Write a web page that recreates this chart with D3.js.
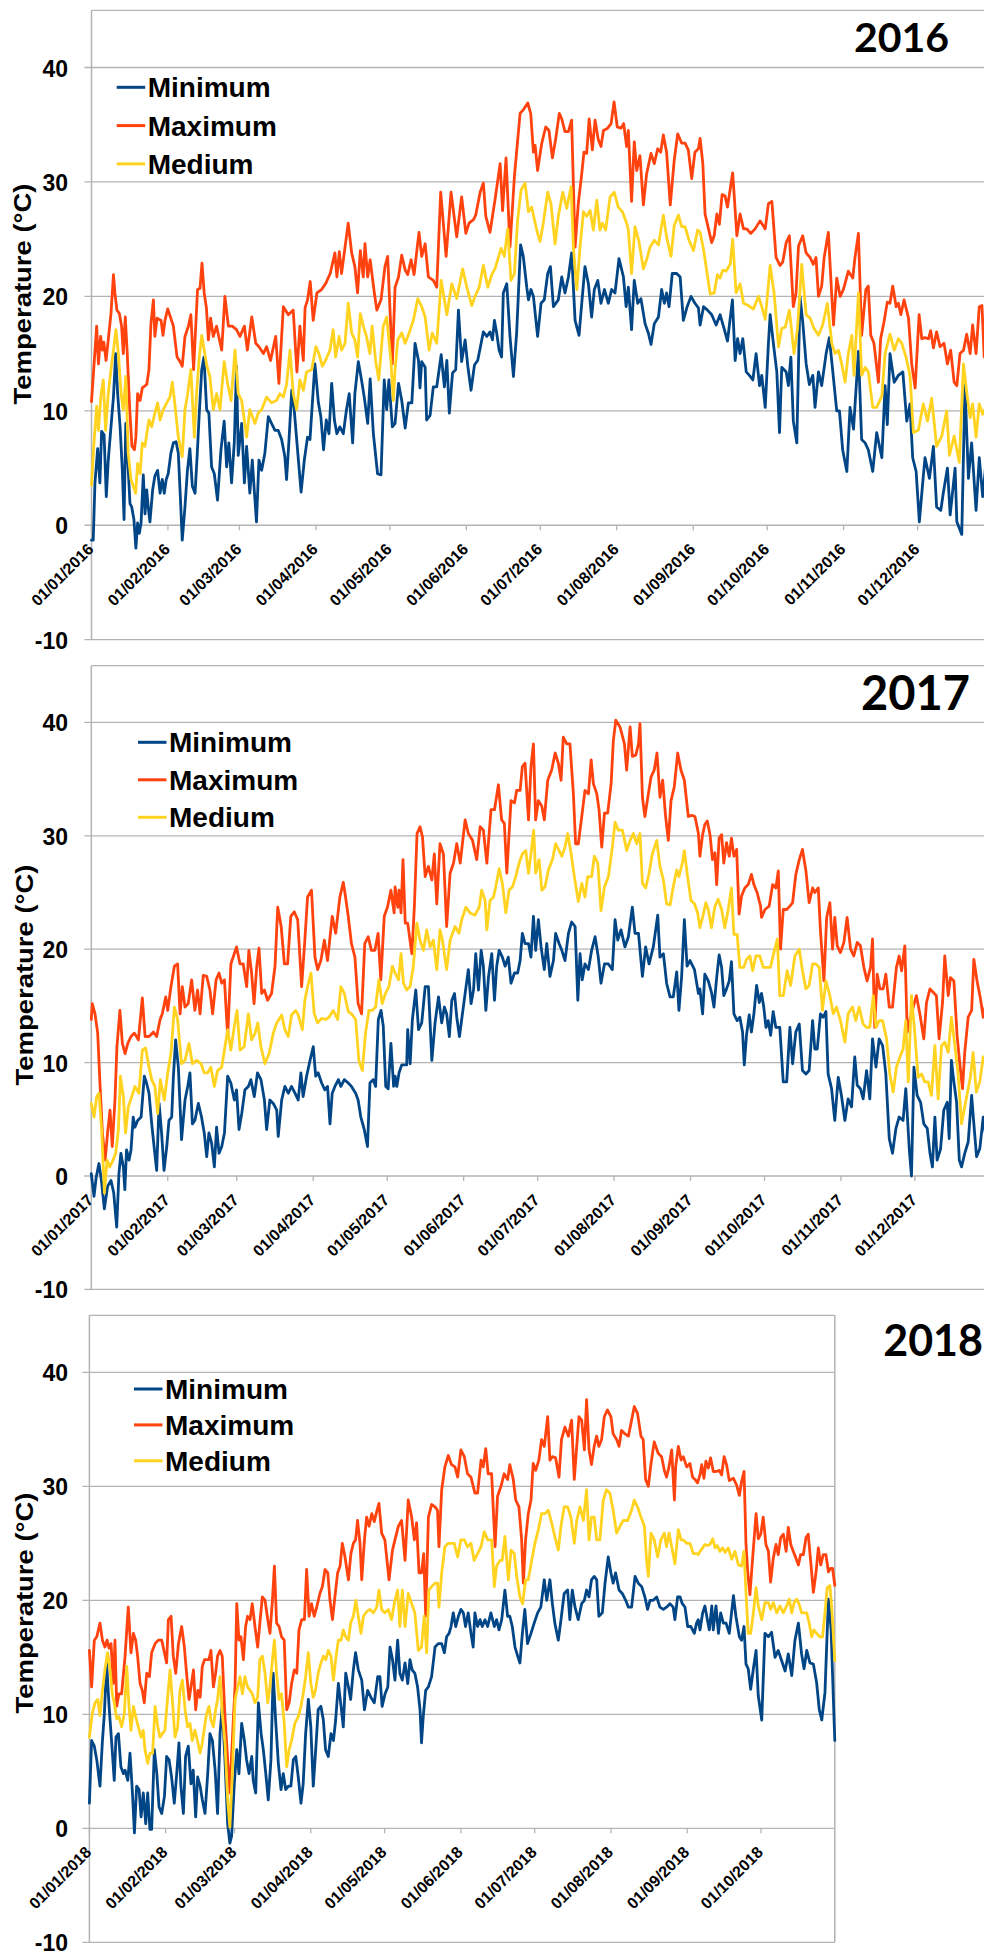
<!DOCTYPE html>
<html><head><meta charset="utf-8">
<script src="https://cdn.jsdelivr.net/npm/d3@7"></script>
<style>html,body{margin:0;padding:0;background:#fff;} svg{display:block;}</style>
</head><body><svg id="c" width="984" height="1955"></svg>
<script>
// ---------- DATA ----------
const seriesNames = ["Minimum", "Maximum", "Medium"];
const seriesColors = ["#004586", "#ff420e", "#ffd320"];
const yTickValues = [-10, 0, 10, 20, 30, 40];
const panelTitles = ["2016", "2017", "2018"];
const yAxisTitle = "Temperature (°C)";
const ticks2016 = ["01/01/2016","01/02/2016","01/03/2016","01/04/2016","01/05/2016","01/06/2016","01/07/2016","01/08/2016","01/09/2016","01/10/2016","01/11/2016","01/12/2016"];
const ticks2017 = ["01/01/2017","01/02/2017","01/03/2017","01/04/2017","01/05/2017","01/06/2017","01/07/2017","01/08/2017","01/09/2017","01/10/2017","01/11/2017","01/12/2017"];
const ticks2018 = ["01/01/2018","01/02/2018","01/03/2018","01/04/2018","01/05/2018","01/06/2018","01/07/2018","01/08/2018","01/09/2018","01/10/2018"];

// series: [day of year (0 = 1 Jan), temperature °C]
const min2016 = [[0,-1.3],[0.7,-1.3],[1.4,3.7],[2.5,6.7],[3.4,3.7],[4.1,8.2],[5.1,7.9],[6,2.5],[6.8,5.7],[7.9,8.6],[8.9,11.2],[9.8,15],[10.6,11.5],[11.6,8.6],[12.5,4.8],[13.2,0.5],[13.9,8.9],[14.7,5.7],[15.6,1.9],[16.3,1.6],[17.2,0.5],[18,-2],[18.7,0.2],[19.4,-0.7],[20.1,0.2],[21,4.4],[21.7,1],[22.4,3.1],[23,1.6],[23.7,0.3],[24.8,3.1],[25.7,4.3],[26.8,4.8],[27.8,2.8],[28.7,4],[29.5,2.8],[30.3,4],[31.1,4.5],[32.2,6.3],[33.2,7.2],[34.3,7.3],[35.2,6.3],[35.9,3.1],[36.8,-1.3],[37.9,1.6],[38.9,4.8],[39.9,6.7],[40.9,3.4],[42,2.8],[42.9,6.3],[43.7,9.8],[44.7,13.6],[45.6,14.7],[46.7,10.1],[47.6,9.8],[48.7,5.1],[49.8,4.5],[51.1,2.2],[52.5,6.6],[53.8,9.1],[54.8,5.1],[55.7,7.2],[56.8,3.7],[57.9,7.2],[58.8,13.9],[59.5,6.1],[60.9,8.9],[62,3.7],[62.9,6.9],[64.2,2.8],[65.2,5.7],[66,3.1],[66.9,0.3],[67.9,5.7],[69,4.8],[70.3,6.3],[71.7,9.5],[73,8.9],[74.4,8.3],[75.7,8.3],[77.1,7.5],[78.4,6],[79.1,4],[80.1,7.5],[81.2,11.8],[82.2,10.1],[83.9,5.7],[85,2.9],[86.3,5.7],[87.6,7.7],[88.6,7.5],[90.6,14.1],[92,10.7],[93,9.5],[94.1,6.6],[95.2,9.2],[96.3,8],[97.4,12.4],[98.5,9.2],[99.5,8],[100.7,8.6],[102.1,8],[103.4,10.1],[104.5,11.5],[105.9,7.2],[106.8,11.5],[108.2,14.3],[109.5,12.7],[110.6,11.2],[112,8.9],[113,12.8],[114.3,8],[116,4.5],[117.4,4.4],[118.7,12.7],[119.7,10.1],[120.6,12.7],[122,8.6],[123.1,8.9],[124.5,12.4],[125.8,10.9],[127.2,8.5],[128.5,10.7],[129.9,10.7],[131.2,15.9],[132.6,14.4],[133.2,12],[133.9,14.3],[135.3,13.8],[135.9,9.2],[137.3,9.6],[138.6,12.1],[140,12.1],[141.8,14.9],[143.1,12.1],[144.1,14.4],[145.1,9.8],[146.4,13.3],[147.7,13.6],[148.8,18.8],[150.1,14.3],[151.5,16.2],[152.6,13.9],[153.9,11.8],[155.3,14],[156.6,14.4],[158,15.9],[158.9,16.9],[160.3,16.5],[161.6,16.9],[162.6,16.2],[163.4,17.9],[164.3,16.8],[165.3,15.3],[166.3,14.7],[167,20.3],[168.4,21.1],[169.7,16.5],[171.1,13],[172.4,16.8],[174,24.5],[175.1,23.5],[176.5,20.8],[177.2,19.7],[178.2,20.6],[179.2,20],[180.9,16.5],[182.3,19.4],[183.6,19.7],[185,22],[186.1,22.6],[187.3,19.1],[189.3,19.7],[190.7,21.7],[192,20.3],[193.4,21.7],[194.7,23.8],[196.1,17.9],[197.7,16.6],[198.8,19.4],[200.1,22.6],[201.5,21.1],[202.8,18.2],[203.9,20.6],[205.3,21.4],[206.6,19.4],[208,20.6],[209.6,19.4],[210.9,20.6],[212.3,20.3],[213.9,23.3],[215.7,21.7],[216.8,19.1],[217.7,20.8],[219,17.1],[220.1,21.4],[221.5,19.4],[222.8,19.8],[224.5,17.6],[225.8,16.8],[226.9,15.8],[228.2,17.6],[229.9,18.2],[231.2,20.6],[232.3,19.4],[233.2,20.3],[234.2,19.1],[235.5,22],[237.3,22],[238.7,21.7],[240,17.9],[241.4,19],[243.1,20],[244.7,19.4],[246.1,19],[246.8,17.5],[248.2,19.1],[249.8,18.8],[251.5,18.4],[253.3,17.5],[254.9,18.4],[256.5,17.2],[257.9,16.1],[259.9,19.7],[261,14.4],[262,16.3],[263,15],[264.1,16.3],[265.5,13.4],[266.8,13.1],[268.2,12.7],[269.5,15],[270.9,12.2],[271.8,13.1],[273.2,10.3],[274.5,15.9],[275.2,18.4],[276.5,15.9],[277.9,13.4],[279,8.1],[279.9,13.8],[281.7,13.4],[282.6,12.2],[283.6,14.7],[284.6,9.1],[286,7.2],[287.3,20],[288.4,17.8],[289.8,14.1],[291.1,12.3],[292.5,13.1],[293.4,10.3],[294.8,13.4],[296.1,12.2],[297.9,15],[299.2,16.4],[300.9,12.8],[302.2,10],[303.3,10],[304.6,6.6],[306.3,4.7],[307.6,10.3],[309,8.4],[311,15.2],[312.3,7.5],[313.7,7.2],[315,6.6],[316.8,4.7],[318.4,8.1],[320.5,5.9],[321.8,12.2],[322.7,8.8],[323.8,15],[325.5,12.5],[327.2,13.1],[329,13.4],[330.6,9.1],[331.9,10.6],[333,5.9],[334.4,4.7],[335.7,0.3],[337.1,3.8],[338,5.9],[339.8,4.1],[341.4,6.9],[342.7,1.6],[344.4,1.3],[345.4,2.8],[347.1,5],[348.2,0.9],[350.2,5],[350.9,0.3],[352.9,-0.8],[354.2,12.2],[355.6,4.1],[356.9,7.2],[358.7,1.3],[360,5.9],[361.4,2.5],[362.5,5],[363.5,3],[365,6]];
const max2016 = [[0,10.8],[2.1,17.4],[2.8,14.1],[3.7,16.5],[4.4,15.3],[5,16],[5.9,14.4],[6.8,16.2],[7.9,18.5],[8.9,21.9],[9.5,20.3],[10.3,18.8],[11.3,18.5],[12.2,17.4],[12.9,15],[13.7,18.2],[14.5,15],[15.5,10.1],[16.4,6.9],[17.4,6.6],[18,7.7],[18.7,11.5],[19.7,10.9],[20.6,12],[22.4,12.3],[23.3,13.6],[24.1,17.6],[25.1,19.7],[25.7,16.5],[26.6,18.1],[28.2,17.9],[29,16.6],[29.8,17.9],[30.9,18.9],[32,18.2],[33.2,17.4],[34.7,14.7],[35.9,14.3],[36.8,13.9],[37.9,16.5],[39.3,17.4],[40.3,18.4],[41.4,13.6],[43,20.6],[44,20.7],[44.8,22.9],[45.7,20.3],[46.6,19],[47.4,16.2],[48.3,18.1],[49.4,16.5],[50.7,17.4],[52.8,15.3],[54.1,20],[55.5,17.4],[57.1,17.4],[58.8,17.1],[60.2,16.5],[62,17.4],[63.2,15.3],[65,18.2],[66.6,15.9],[67.9,15.6],[69.7,15],[71,15.6],[72.6,14.4],[74.7,16.5],[76,12.4],[77.8,19.1],[79.8,18.4],[81.8,18.8],[83.3,13.4],[84.5,17.4],[85.9,14.4],[86.6,19],[87.6,19.7],[88.7,21.3],[89.9,17.9],[91.4,20.3],[93.3,20.6],[94.9,21.1],[96.8,22],[98.7,23.8],[99.5,21.7],[100.5,23.9],[101.4,22],[104.1,26.4],[105.5,23.8],[106.8,22.6],[107.9,20.3],[109,24],[110.2,21.7],[110.9,24.6],[112,21.7],[113,23.2],[114.7,20.3],[115.7,18.8],[117.4,19.7],[119,22.6],[120.1,23.5],[122,14.1],[123.1,20.8],[124.5,21.7],[125.8,23.6],[127.2,22.3],[128.2,21.9],[129.6,23.2],[130.8,21.9],[132.8,25.6],[133.9,23.5],[135.3,24.6],[136.6,21.7],[138.6,21.4],[140,20.8],[141.6,29.1],[143.8,23.5],[145.8,29.1],[148.1,25.2],[150.1,28.7],[151.8,25.5],[153.1,26.4],[154.9,26.7],[155.8,27.1],[157.6,29.1],[158.9,29.9],[159.9,27],[161.6,25.6],[163.6,28.4],[165.7,31.6],[166.7,27.5],[168.1,32.1],[169.7,24.3],[171.5,30.5],[173.8,36],[175.1,36.3],[176.9,36.9],[178.1,36],[179.2,32.6],[179.9,33.2],[180.9,31],[182.6,33.4],[184.2,34.8],[185.5,34.5],[186.9,32.1],[188.2,33.7],[189.7,36],[190.7,35.5],[192,34.4],[193.4,34.4],[194.7,35.4],[196.1,24.3],[197.4,28.1],[198.8,30.7],[199.7,32.6],[200.8,32.5],[201.8,35.5],[203.1,32.8],[204.2,35.4],[205.5,33.7],[206.6,33.1],[207.6,34.5],[209.3,34.7],[210.7,35.1],[211.9,37],[213.2,34.8],[214.7,34.7],[215.8,35.1],[217,33.1],[217.7,34.5],[219,28.3],[220.1,33.5],[221.1,31],[222.4,32.3],[223.8,28],[225.1,30.7],[226.9,32.5],[228.2,31.6],[229.6,32.9],[230.8,32.6],[231.9,34.1],[233.2,32.6],[234.7,28],[236.3,31.9],[237.7,34.2],[239.3,33.4],[240.7,33.4],[242,32.8],[243.4,30.3],[244.7,32.6],[246.1,32.9],[246.8,33.8],[247.9,31.6],[248.8,27.2],[250.2,25.9],[251.5,24.7],[252.5,25.3],[253.6,27.2],[254.6,26.3],[255.7,28.9],[256.9,28.8],[257.9,27.8],[260,30.8],[261.7,25.3],[263,27.2],[264.4,25.9],[265.7,25.9],[267.3,25.5],[269.1,25.9],[271.1,26.6],[273.2,25.9],[274.5,28.1],[275.9,28.3],[277.6,23.4],[279.2,22.7],[280.3,23],[281.7,24.7],[283,25.3],[284.6,19.1],[285.7,20.3],[286.7,24.4],[288.4,25.3],[289.8,23.8],[291.4,23.4],[292.7,22.8],[293.8,23.4],[294.8,20],[296.1,20.9],[297.1,23.4],[298.8,25.6],[300.2,20],[300.9,17.5],[302.2,21.6],[303.6,20],[304.9,20.6],[306.9,22.2],[308.7,21.6],[309.6,23.4],[311,25.5],[312.3,16.6],[314,20.6],[315,20.9],[316,16.6],[317.3,15.9],[319.1,12.5],[320,16.3],[321.4,17.8],[322.7,19.5],[323.8,19.4],[324.9,20.9],[326.3,19.1],[327.2,19.4],[328.2,18.4],[329.5,19.7],[331.3,18.1],[332.6,14.1],[334,12],[335.6,18.4],[336.7,16.3],[337.9,16.4],[339.4,16.3],[340.3,17],[341.4,15.5],[342.7,16.9],[344.1,15.6],[345.7,15.9],[347.1,14.1],[348.4,15.3],[349.8,12.5],[350.9,12.2],[352.2,15],[353.6,15.3],[354.9,16.7],[356.3,15],[357.3,17.5],[358.7,15],[360,19.1],[361.1,19.2],[362,14.7],[363,17],[364,15],[365,13]];
const med2016 = [[0,3.5],[1.1,7.5],[2.1,10.4],[2.8,8.3],[3.9,11.5],[4.8,12.7],[5.7,8.3],[6.8,11.5],[7.9,13.6],[8.9,15.3],[9.9,17.1],[10.9,15],[12,11.5],[12.9,10.1],[13.9,13],[14.9,6.3],[16,4],[17,3.4],[17.9,2.8],[18.7,5.4],[19.7,4.5],[20.6,7.2],[21.7,6.9],[22.4,8],[23.3,9.2],[24.4,8.6],[25.7,9.8],[26.8,10.7],[27.8,9.2],[29.1,10.1],[30.5,10.7],[31.8,11.2],[32.8,12.5],[33.9,10.4],[35.2,7.7],[36.8,6],[37.9,10.1],[39,11.5],[40.3,13.6],[41.7,7.7],[42.6,11.5],[43.7,14.7],[44.7,16.6],[45.7,15.3],[46.8,13.9],[48,13],[49.4,10.1],[50.7,11.5],[52.1,10.1],[53.8,14.3],[55.2,12.4],[56.6,10.9],[58.2,15.3],[59.5,11.5],[60.9,10.9],[62.9,7.7],[64.2,10.1],[66.3,8.9],[67.6,9.8],[69,10.1],[71,11.2],[73,10.7],[75,10.9],[76.4,11.5],[77.8,11.2],[79.1,12.3],[80.5,15.3],[81.8,11.5],[83.2,10.1],[84.5,12.7],[85.9,11.8],[87.2,13.4],[89.3,13.6],[91,15.6],[92.2,15],[93.6,13.9],[94.9,14.4],[96.7,15.3],[98,17.1],[99,14.7],[100.4,16.5],[101.4,15.3],[102.8,15.9],[104.1,19.4],[105.5,16.8],[106.8,16.2],[107.9,14.7],[109,18.5],[110.2,17.4],[111.5,16.5],[112.9,15],[113.8,17.4],[115.2,14.4],[116.5,12.7],[118.3,17.4],[119.7,18.2],[121.4,14.4],[122.4,10.9],[123.1,13.6],[124.2,16.2],[125.8,16.8],[127.2,15.9],[128.8,16.8],[130.5,17.9],[132.3,19.8],[133.9,19.1],[135.3,18.2],[136.9,15.3],[138.2,16.8],[140,15.9],[141.8,21.4],[144.1,18.4],[146.1,21.1],[148.1,19.8],[150.5,22.4],[152.2,20.8],[154.2,19.2],[155.5,20],[157.2,20.8],[158.9,22.7],[160.7,20.8],[162.3,21.9],[163.6,22.4],[166.1,24.2],[167.4,23.5],[168.8,25.9],[170.1,21.4],[171.5,22],[172.8,26.7],[174.2,29.3],[175.8,29.9],[177.2,27.4],[178.5,27.8],[179.6,26.7],[180.9,25.5],[181.9,24.8],[183.2,26.4],[185,29.1],[186.3,28.1],[188,24.6],[189.3,27],[191.1,29.1],[192.7,27.7],[194.5,29.6],[195.4,24.3],[196.8,20.6],[198.1,24.3],[199.5,27.4],[200.8,27],[202.2,27.5],[203.5,25.8],[204.9,28.4],[206.2,25.8],[207.2,26.4],[208.5,25.8],[210.3,28.7],[212,29.1],[213.6,27.8],[215.3,27.4],[217,26.4],[217.7,25.8],[219,22],[220.4,26.1],[222,24.8],[223.8,22.4],[225.1,23.2],[226.5,24.3],[228.2,24.9],[229.9,24.5],[231.9,27.1],[233.2,25.2],[235,23.5],[236.3,26.2],[238,27.1],[239.3,26.1],[240.7,26.1],[242.3,24.9],[244.1,24],[245.8,25.8],[246.8,25.6],[248.2,24.1],[249.5,22.2],[250.9,20.2],[252.5,20.3],[253.8,21.9],[254.9,21.6],[256,22.3],[257.3,22.2],[259,22.8],[260,25],[261.4,20.3],[263,21.1],[264.4,19.4],[266.4,19.2],[268.4,18.9],[270.5,20],[271.8,19.1],[273.2,18],[275.2,22.7],[276.8,20.3],[278.6,15.6],[279.9,17.2],[281.3,17.3],[283,18.8],[284.9,15],[286.3,17.2],[288,22.8],[289.8,18.4],[291.4,18.1],[293,17.2],[294.8,16.6],[296.5,17.5],[298.4,19.4],[300.2,15.9],[301.5,15],[302.9,15.3],[304.2,14.1],[305.6,12.5],[306.9,15],[308.3,16.6],[309.2,13.1],[311,20.3],[312.3,13.1],[313.7,13.8],[315,13.4],[316.8,10.3],[318.4,10.3],[320.5,11.3],[321.8,15],[323.8,16.7],[325.5,15.3],[327.2,16.3],[328.6,15.9],[330.3,14.7],[331.9,13.1],[333.3,8.1],[335.3,8.3],[337.3,10.6],[339,9.1],[340.7,11.1],[342.7,6.9],[344.8,7.8],[346.8,10],[347.9,6.1],[349.8,7.8],[351.9,5.5],[353.6,14.1],[354.9,11.6],[356.3,9.4],[357.3,10.6],[358.7,7.7],[360,10.6],[361.4,9.7],[363,10.5],[365,9.5]];

const min2017 = [[0,0.2],[1.1,-1.8],[2,-0.1],[3.1,1.1],[4.1,-0.4],[5.3,-2.9],[6.6,-0.9],[8,-0.4],[9.1,-1.5],[10.3,-4.5],[11.2,0.2],[12,2],[13,0.8],[13.6,-1.2],[14.3,2.3],[15.3,1.4],[16.1,2.3],[17,5.2],[17.7,4.3],[18.8,4.9],[20.2,5.2],[21.5,8.8],[22.4,8.2],[23.4,7.3],[24.5,4.6],[25.6,2.3],[26.5,0.5],[27.5,6.4],[28.5,3.8],[29.5,0.5],[30.6,2.6],[31.5,4.9],[32.6,5.2],[33.3,8.8],[34.2,12],[35.3,9.6],[36.6,3.2],[38,6.7],[39.1,7.9],[40,9.1],[41,4.6],[42,4.9],[43.4,6.4],[44.7,5.2],[45.8,3.8],[46.8,1.7],[47.7,3.8],[48.8,2.9],[49.9,0.8],[50.8,4.3],[51.8,2],[52.9,2.6],[54,3.8],[55.3,8.8],[56.6,8.2],[58,6.7],[58.9,7.6],[59.9,4.1],[61,5.5],[62.3,7.6],[63.7,7.9],[64.7,8.5],[66.1,7],[67.4,9.1],[68.8,8.5],[70.2,6.7],[71.1,4.1],[72.4,6.7],[73.8,6.4],[75.2,5.8],[75.8,3.5],[77.2,6.7],[78.5,7.9],[79.9,7.3],[81.2,7.9],[82.6,7.3],[83.9,6.7],[85,9.1],[85.9,7],[87.3,8.8],[88.7,10.2],[90,11.4],[91,8.8],[92,9.1],[93.4,8.2],[94.7,7.6],[95.8,7.9],[96.8,4.6],[97.7,7.3],[98.8,7.9],[100.2,8.5],[101.2,7.9],[102.6,8.5],[104.2,8.2],[105.5,7.9],[107.2,7.3],[108.2,6.7],[109.3,5.2],[110.7,4.1],[112,2.6],[113,8.2],[114.3,8.5],[115.3,7.9],[116.4,13.8],[117.5,14.6],[118.4,13.2],[119.4,7.9],[120.4,7.7],[121.5,11.7],[122.6,7.9],[123.2,8.8],[123.9,7.9],[124.8,9.1],[125.9,9.8],[127.9,9.8],[128.3,12.9],[129.3,9.9],[130.2,13.8],[131.6,16.4],[132.7,12.9],[134,13.5],[135.4,16.7],[136.7,16.7],[138.1,10.2],[139.4,13.5],[140.8,15.8],[142.1,13.5],[143.2,14.9],[144.1,14.3],[145.2,12.3],[146.2,15.5],[147.3,16.1],[148.2,14],[149.3,12.3],[150.2,13.8],[151.6,16.1],[152.9,18.2],[154,15.2],[155,16.4],[155.9,19.6],[157,16.4],[158.1,19.9],[159,18.5],[160,14.6],[161.1,17.6],[162.4,19.6],[163.5,15.5],[164.4,18.5],[165.4,19.9],[166.7,19.3],[167.8,18.5],[169.1,19.3],[170.2,17],[171.6,17.9],[172.9,17.9],[173.9,19],[174.8,21.4],[175.9,20.5],[177.3,20.5],[178.3,19.3],[179.3,22.9],[180.2,19.9],[181.3,22.6],[182.4,20.2],[183.7,18.2],[184.7,20.5],[186,17.6],[187.4,19],[188.3,21.4],[189.7,20.5],[190.8,19.9],[192.1,19],[193.5,21.4],[194.8,22.4],[196.2,22],[197.3,15.5],[198.2,19.6],[199.1,17.3],[200.2,18.7],[201.6,18.2],[202.9,19.9],[204.3,21.1],[205.6,19.3],[206.7,17],[208.1,18.7],[209.7,18.7],[211.3,18.2],[212.4,22.6],[213.5,20.8],[214.8,21.7],[216.4,20.2],[217.8,21.1],[219.4,23.7],[220.5,21.4],[221.9,21.4],[223.5,17.6],[224.8,20.2],[226.2,18.7],[227.9,20.2],[229.7,23],[230.6,19.3],[232,19.6],[233.3,17],[234.7,15.8],[236,15.8],[237.4,18],[238.3,14.6],[239.4,17.6],[240.5,22.6],[241.6,18.5],[242.8,19],[244.6,18.2],[246.2,16.1],[246.8,16.5],[247.9,14.3],[248.8,17.8],[250.2,17.2],[251.5,16.2],[252.5,14.9],[253.6,17.5],[254.6,19.5],[255.6,18.4],[256.5,15.9],[257.6,16.5],[258.7,17.2],[259.6,18.9],[260.6,14.3],[261.9,13.7],[263,14],[264.1,12.7],[264.8,9.8],[265.7,12.4],[266.8,14.2],[267.7,12.7],[268.7,14.3],[269.8,16.8],[270.9,15.3],[271.8,16.1],[272.7,14.9],[273.6,13.1],[274.5,13.7],[275.5,12.4],[276.5,14.5],[277.6,13.1],[279.2,13.1],[280.6,8.3],[282,8.3],[283.3,13.1],[284.4,9.9],[285.7,12.7],[287.1,13.4],[288.4,9.3],[289.8,9],[291.1,9.3],[292.5,13.7],[293.4,11.2],[294.4,11.2],[295.7,14.3],[296.8,14],[297.9,14.5],[298.8,9],[300.2,7.7],[301.5,4.9],[302.9,8.7],[304.2,7.1],[305.6,4.9],[306.9,6.8],[308.3,6.1],[309.6,10.5],[310.6,8],[311.9,7.7],[313,6.8],[314.4,9.3],[315.7,6.8],[316.8,12.1],[318.2,9.6],[319.5,12.1],[320.9,11.5],[322.2,9],[323.6,3.3],[324.9,2],[326.3,4.2],[327.6,5.2],[329.2,4.9],[330.3,7.7],[331.7,2.4],[332.6,0],[333.6,9.6],[334.9,7.1],[336.3,6.5],[337.6,4.6],[339,4.2],[340.1,2],[341.1,0.8],[342.1,5.2],[343,1.4],[344.4,2.4],[345.7,5.8],[347.1,6.5],[347.9,3.3],[348.8,10.2],[349.8,8.3],[350.9,6.5],[352,1.4],[352.9,0.8],[354.2,2],[355.6,3],[357,7.1],[357.9,4.6],[359,1.7],[360.3,2.4],[361.7,5.2],[363,3],[364,5]];
const max2017 = [[0,13.8],[0.4,15.2],[1.5,14.3],[2.6,12.6],[3.5,8.2],[4.5,3.8],[5.6,1.4],[6.6,3.8],[7.6,5.8],[8.5,2.6],[9.6,6.7],[10.4,11.4],[11.6,14.6],[12.6,11.7],[13.7,10.8],[14.8,11.7],[16.1,12.3],[17.5,12.6],[19.1,12],[20.7,15.7],[21.8,12.3],[23.4,12.3],[25.2,12.7],[26.5,12.3],[27.9,13.8],[28.8,14.3],[30.2,15.8],[31,14.6],[32.3,16.7],[33.7,18.5],[35,18.7],[36,14.3],[36.9,16.7],[38,14.9],[39.3,15.2],[40.7,17.3],[42,14.6],[43.1,16.4],[44.1,14.3],[45.4,17.7],[46.8,17.6],[48.1,16.4],[49.2,14.3],[50.6,17.3],[51.8,17.9],[52.9,17],[54,17.3],[55.3,12.3],[56.6,18.7],[58.9,20.2],[60.3,18.7],[61.6,18.7],[63,16.7],[63.9,19.9],[65,17.9],[66,15.2],[67.1,18.5],[68,20.1],[69.1,16.1],[70.2,16.4],[71.5,15.5],[73.1,16.1],[74.5,18.5],[75.6,23.7],[77,22],[78.3,18.7],[79.6,18.7],[80.9,22.9],[82.3,23.3],[83.7,22.6],[85.3,16.7],[86.6,20.8],[87.7,24.6],[89.3,25.2],[90.7,19.3],[91.8,18.2],[93.1,19],[94.5,20.8],[95.8,19],[97.7,22.9],[99.1,21.4],[100.8,24.6],[102.2,25.9],[103.1,24.6],[104.2,22.9],[105.5,20.5],[106.9,19.3],[108.2,15.2],[109.6,14.3],[110.9,20.5],[112.3,21.1],[113.6,19.9],[115,19.9],[116.3,21.4],[117.4,17.3],[118.8,22.9],[120.1,23.7],[121.5,25.2],[122.8,23.2],[123.2,25.5],[124.3,23.7],[124.8,25.2],[125.6,23.2],[126.4,27.9],[127.3,22.3],[128.3,22.3],[130,19.6],[131,23.7],[132.1,30.2],[133.3,30.8],[134.3,29.9],[135.4,26.4],[136.7,27.3],[138.1,26.1],[139.1,28.4],[140.1,24],[141.4,29.3],[142.8,28.4],[144.1,22],[145.5,26.7],[146.9,27.6],[148.2,29.3],[149.6,27.6],[151.6,31.4],[152.9,30.2],[154.6,29.6],[156.3,27.9],[157.7,30.8],[159,30.5],[160.4,27.6],[162.1,32.3],[163.5,32.3],[165.1,34.5],[166.4,31.4],[167.5,31.1],[168.5,26.7],[170.2,33.1],[171.6,32.9],[172.5,34],[173.9,34],[174.8,36.1],[175.9,36.4],[177.3,31.4],[178.3,36.1],[179.3,38.1],[180.2,31.4],[181.3,33.1],[182.7,32.6],[183.7,31.4],[185.1,34.9],[186.7,35.8],[188.1,37.3],[189.4,36.4],[190.5,34.9],[191.4,38.7],[192.8,38.1],[194.1,38.1],[195.5,33.7],[196.4,29.3],[197.5,29.3],[198.9,31.7],[200.2,34],[201.6,33.7],[202.7,36.7],[203.6,34.6],[205,33.7],[205.9,32.3],[207,29],[208.1,32],[209.4,32],[210.8,34.6],[211.7,38.4],[212.7,40.2],[214.4,39.6],[216.2,38.1],[217.1,35.8],[218.5,39.6],[219.4,37],[220.8,37.1],[221.9,38.1],[222.5,39.9],[223.5,33.4],[224.5,31.7],[225.9,33.7],[227,35.2],[228.3,35.8],[229.4,37.3],[230.6,33.4],[231.7,34.9],[232.9,31.7],[234,29.6],[235.1,33.1],[236.4,34.3],[237.8,37.3],[239.1,35.8],[240.5,34.9],[242.1,31.7],[243.5,31.8],[244.8,31.7],[246.2,30.2],[246.8,28.2],[247.9,30.1],[248.8,31],[249.8,31.3],[250.9,30.1],[251.9,27.9],[252.9,28.5],[253.6,25.7],[254.6,29.8],[255.6,30.1],[256.5,27.6],[257.6,29.4],[258.7,28.2],[259.6,29.8],[260.6,28.2],[261.7,28.8],[262.7,23.1],[263.7,24.7],[265,25.4],[266.4,25.7],[267.7,26.6],[268.7,25.7],[270,25],[271.4,23.8],[271.8,22.8],[273.2,23.5],[274.9,23.8],[276.3,25.7],[277.6,25.4],[278.6,26.9],[279.5,20],[280.6,23.5],[282,23.5],[283.3,23.8],[284.4,24.1],[285.7,26.6],[287.1,27.9],[288.4,28.8],[289.8,26.9],[291.1,24.1],[292.5,25.4],[293.4,25],[294.8,25.4],[295.7,21.6],[297.1,17.2],[298.2,22.8],[299.5,24.1],[300.6,20],[301.5,22.8],[302.5,20.3],[303.8,19.7],[305.2,20.6],[306.5,22.8],[307.9,20],[309.2,19.4],[310.6,20.6],[311.9,20.3],[313.3,18.4],[314.6,17.2],[316,18.4],[316.8,20.9],[317.7,13.1],[318.7,17.8],[319.8,16.5],[321.1,16.5],[322.2,17.8],[323.6,14.9],[324.9,14.9],[326.5,18.4],[327.6,19.4],[328.6,18.1],[329.9,20.3],[330.9,12.7],[332.2,14],[333.3,14.9],[334.6,15.9],[336,14.3],[337.6,12.1],[338.7,15.3],[340.1,16.5],[341.4,16.2],[342.7,15.9],[343.8,12.1],[345.2,15.3],[346.1,19.4],[347.5,15.9],[348.4,17.5],[349.8,17.2],[351.1,12.4],[352.2,9.9],[353.3,7.7],[354.2,10.9],[355.6,14],[357,14.6],[357.9,19.1],[359.2,17.2],[360.6,15.6],[361.7,14],[363,15.5],[364,14]];
const med2017 = [[0,6.4],[1.1,5.2],[2.2,7],[3.1,7.3],[4.2,4.1],[5.3,-1.5],[6.4,1.4],[7.5,0.8],[8.8,1.4],[9.9,2],[11,4.1],[11.8,8.8],[13,7],[13.9,3.8],[15,6.1],[16.4,7],[17.7,7.9],[19.3,7.3],[20.7,11.1],[22,11.3],[23.4,9.6],[24.5,8.5],[25.8,7.9],[26.9,5.5],[28,8.5],[29.6,6.7],[31,9.1],[32.3,10.8],[33.7,14.9],[35,13.8],[36.6,9.9],[38,10.2],[39.6,11.7],[41,9.9],[42.7,10.2],[44.5,9.9],[45.8,9.1],[47.2,9.1],[48.5,9.6],[49.9,7.9],[51.2,9.3],[52.9,9.6],[54.2,11.4],[55.3,12.9],[56.6,11.1],[58,13.2],[59.1,14.6],[60.3,11.1],[62,11.4],[63.7,14.3],[65,12],[66.4,12.6],[67.5,13.5],[68.8,11.4],[70.4,9.9],[72.1,10.8],[73.8,12.6],[75.2,13.5],[77.2,14.2],[78.5,12.9],[79.9,12.3],[81.2,14.2],[82.9,14.6],[83.9,14.2],[85.6,12.9],[86.6,15.5],[87.7,16.7],[89.1,17.9],[90.4,14.3],[91.8,13.5],[93.4,13.9],[95,13.8],[96.4,14],[98.1,14.6],[99.9,13.8],[101.2,16.7],[102.6,16.1],[104.2,14.5],[105.5,14.3],[107.2,13.8],[108.5,10.2],[109.9,9.3],[111.2,12.6],[112.6,14.6],[113.9,14.6],[115.3,14.9],[116.6,17.3],[118,15.2],[119.3,16.1],[120.7,16.7],[122.1,18.5],[123.2,17.9],[124.6,17.3],[125.6,19.6],[126.6,17],[127.9,16.4],[129.3,16.7],[130.6,18.5],[132,22.3],[133.3,20.8],[134.7,19.9],[136,21.7],[137.4,20.2],[138.7,20.8],[140.1,18.2],[141.4,21.7],[142.4,20.8],[144.1,18.2],[145.5,20.8],[147.5,22],[149.1,21.4],[150.2,22.6],[151.9,23.7],[153.6,23.2],[155.6,23],[157.3,23.7],[158.3,25.2],[159.7,24.3],[160.4,21.7],[161.7,24.3],[163.1,24.6],[164,25.5],[165.4,27.1],[166.7,25.8],[168.1,23.2],[169.4,25.2],[170.8,25.5],[172.1,26.4],[173.5,27.6],[174.8,28.4],[176.2,28.7],[177.3,26.7],[178.3,28.4],[179.4,30.5],[180.2,26.7],[181.6,27.9],[182.7,25.2],[184,25.5],[185.4,27],[187,27.9],[188.3,29.3],[189.7,28.7],[190.8,28.2],[192.1,29],[193.2,30.2],[194.6,28.4],[195.9,26.4],[197.5,24.2],[198.9,25.8],[200.2,24.6],[201.3,26.4],[202.9,26.4],[204,28.2],[205.4,27.6],[206.7,23.4],[208.1,25.5],[209.7,26.4],[211.3,29],[212.4,31.2],[213.7,30.5],[215.4,30.5],[217.1,28.7],[218.5,29.6],[219.8,30.2],[221.2,29.3],[222.5,30.2],[223.5,25.8],[224.8,25.4],[226.2,26.7],[227.5,28.4],[229.3,29.6],[230.6,27.3],[232,26.1],[233.3,24],[234.7,23.9],[236,25.5],[237.4,27],[238.3,26.4],[239.7,27.6],[240.5,28.7],[241.8,26.4],[243.2,24.3],[244.6,24],[245.9,23.2],[246.8,21.9],[247.9,22.8],[249.2,24.1],[250.2,23.5],[251.5,21.9],[252.9,23.8],[254.2,24.4],[255.6,23.5],[256.9,21.9],[258.3,23.5],[259.6,25.4],[260.6,21.3],[261.9,21.3],[263,18.4],[264.6,18.4],[265.7,19.1],[267.1,19.4],[268.2,18.1],[269.5,19.4],[271.1,19.4],[272.5,18.4],[273.8,18.4],[275.4,18.4],[276.8,19.7],[278.2,20.9],[279.2,15.9],[280.6,15.9],[282.2,18.1],[283.6,16.8],[285.3,19.4],[287.1,20],[288.4,18.1],[289.8,16.5],[291.1,16.8],[292.5,18.7],[293.8,18.7],[295.2,18.4],[296.5,14.6],[297.9,17.2],[299.5,15.9],[300.9,14.3],[302.2,14.9],[303.8,13.7],[305.6,11.8],[306.9,14.3],[308.7,14.9],[310,13.7],[311.4,14.9],[313,13.4],[314.4,13.1],[315.7,13.1],[317.1,15.9],[318.2,13.1],[319.5,13.7],[320.9,13.7],[322.5,12.1],[323.8,9],[325.2,7.4],[326.5,9.6],[327.9,10.5],[329.2,11.2],[330.3,13.7],[331.3,8.3],[332.6,15.9],[333.9,12.7],[335.3,8.7],[336.7,9],[338,8.3],[339.4,8.3],[340.7,7.1],[342.1,11.5],[343.4,6.8],[344.8,11.5],[346.1,11.8],[347.5,10.9],[348.8,14],[350.2,11.5],[351.5,9],[352.9,4.6],[354.2,6.1],[355.6,7.7],[356.5,8.7],[357.6,10.9],[358.9,7.4],[360.3,8.3],[361.7,10.5],[363,9.5],[364,10.5]];

const min2018 = [[0,2.2],[0.9,7.7],[2,7.2],[3,6],[4.3,3.7],[5.3,7.7],[6.1,10.1],[7,14.5],[8,10.7],[9,7.7],[10.1,4.2],[10.8,8],[11.8,8.3],[12.8,5.4],[13.8,4.8],[14.5,5.1],[15.6,4.2],[16.5,6.6],[17.5,3.1],[18.3,-0.4],[19.2,3.7],[20.2,3.4],[21,1],[21.9,3.1],[22.9,0.4],[23.7,3.1],[24.6,-0.1],[25.3,-0.1],[26.4,6.9],[27.4,4.8],[28.3,1.9],[29.4,1.3],[30.5,2.8],[31.4,6.3],[32.4,6],[33.4,4.5],[34.5,2.2],[35.5,4.8],[36.4,7.5],[37.2,3.7],[38.2,1.3],[39.1,6.3],[40.2,7.2],[41.3,3.9],[42.2,5.1],[43.2,1],[44,4.5],[45,3.7],[45.9,2.5],[47,1.3],[48.1,4.8],[49,8.3],[50,7.7],[51.1,5.1],[52.1,1.3],[53.1,8.3],[54,10.7],[55.1,6],[56.2,0.4],[57.1,-1.3],[57.8,-0.7],[58.9,3.9],[59.9,6.9],[60.8,4.8],[61.9,9.2],[63,7.7],[63.9,6],[64.9,4.8],[66,6.3],[66.6,4.2],[67.6,3.1],[68.7,11],[69.8,8.3],[70.7,6.9],[71.7,4.8],[72.7,2.5],[73.8,6],[74.7,13.6],[75.7,9.5],[76.8,5.7],[77.9,3.4],[78.8,4.8],[79.8,3.4],[80.9,3.7],[81.9,3.7],[82.9,6],[83.9,6.3],[84.9,4.5],[86,2.2],[86.9,3.9],[87.9,8.3],[89,11.3],[90,8.9],[91,3.7],[92,6.9],[93,10.4],[94.1,10.7],[95.1,9.5],[96,6.9],[97.1,6.3],[98.2,8.3],[99.2,7.7],[100.1,9.5],[101.2,12.7],[102.3,10.7],[103.2,8.9],[104.2,13.6],[105.3,12.4],[106.2,11.3],[107.3,13.9],[108.2,15.4],[109.3,13.9],[110.7,13],[111.8,10.4],[113.1,12.1],[114.4,11.5],[115.8,11],[117.2,13.3],[118.1,13.3],[119,10.7],[120.2,11.8],[121.3,12.4],[122.2,15.9],[123.2,14.8],[124.2,13],[125.3,16.5],[126.2,13.6],[127.2,13],[128.3,14.5],[129.4,12.7],[130.3,14.8],[131.2,13.9],[132.3,13.6],[133.4,12.4],[134.4,10.4],[135,7.5],[135.7,9.8],[136.7,12.1],[137.8,12.4],[139.1,13.3],[140.5,15.9],[141.8,16.2],[143.2,16.2],[144.3,15.4],[145.2,16.8],[146.2,17.1],[147,17.7],[147.9,18.9],[148.9,17.7],[150,18.6],[151,19.2],[152,18.9],[152.9,17.7],[154,18.9],[155.1,17.1],[156,15.9],[156.7,18.9],[157.8,17.7],[158.8,18.3],[159.7,17.7],[160.8,18.3],[161.9,17.7],[163.2,18.9],[164.6,17.7],[165.5,18.3],[166.5,17.4],[167.6,18.3],[168.9,20.9],[170,18.6],[170.9,18.6],[171.9,17.7],[173,15.9],[174.1,15.1],[175,14.5],[176,17.1],[177,19.2],[178.1,16.2],[179.5,17.1],[180.8,18],[182.2,18.9],[183.5,19.4],[184.9,21.8],[185.9,20],[187.2,21.8],[188.2,19.7],[189.2,18],[190.6,16.5],[191.7,18.3],[193,20.6],[194.4,20.9],[195.3,18.3],[196.3,20.9],[197.4,19.4],[198.7,18.3],[200.1,19.7],[201.2,20],[202.1,20.9],[203.1,20.3],[204.1,21.8],[205.2,22.1],[206.2,21.8],[207.1,18.6],[208.5,18.9],[209.6,21.5],[210.9,23.8],[212,22.4],[212.9,21.5],[213.9,22.4],[215.3,20.9],[216.6,20.6],[218,20],[219.1,19.4],[220.4,19.4],[221.8,22.1],[223.1,21.5],[224.5,21.2],[225.8,20.3],[226.9,19.2],[227.9,20],[229.2,20],[230.6,20.3],[231.9,19.4],[233.3,19.2],[234.6,19.4],[236,19.7],[237.3,19.4],[238,18.3],[239.1,20.3],[240.1,20.3],[241,19.7],[242.1,19.4],[243.2,17.7],[244.5,17.7],[245.9,17.1],[246.8,18],[247.5,18.3],[248.2,17.4],[249.3,18.9],[250.2,19.5],[251.2,18.3],[252,17.4],[253,19.5],[253.6,17.4],[254.7,19.5],[255.7,17.1],[256.6,18.9],[257.7,18],[258.8,18],[260.1,17.1],[261.8,20.4],[262.8,18.6],[264.2,16.8],[265.1,16.5],[266.1,17.7],[266.9,14.4],[267.8,14],[268.8,12.2],[269.9,14],[271,15.6],[271.9,11.6],[273.3,9.5],[274.6,17.1],[276,16.8],[277.3,17.2],[278.7,15],[280,15.6],[281.4,14.7],[282.8,13.8],[284.1,15.3],[285.5,13.4],[286.8,16.5],[288.2,18],[289.5,15.3],[290.5,14],[291.6,15.6],[292.9,14.5],[294.3,14.4],[295.6,12.8],[296.7,10.4],[297.7,9.5],[299,11.9],[300.4,20.1],[301.5,17.4],[302.1,13.4],[303,7.7]];
const max2018 = [[0,15.6],[0.9,12.4],[2,16.5],[3,16.8],[4.3,18],[5.3,16.5],[6.3,15.9],[7.2,16.5],[8,15.8],[8.8,16.2],[9.7,12.7],[10.4,16.5],[11.1,10.7],[12,11.8],[13.1,11.8],[14.5,15.1],[15.8,19.4],[16.9,15.4],[17.9,17.1],[18.8,16.5],[19.6,15.1],[20.6,12.7],[21.5,12.1],[22.3,11],[23.3,13.6],[24.4,13.3],[25.3,15.4],[26.7,16.2],[28,16.5],[29.4,16.5],[30.5,15.4],[31.4,14.5],[32.1,18.3],[33.2,18.6],[34.1,15.1],[35.1,13.6],[36.2,16.2],[37.5,17.7],[38.6,15.9],[39.5,13.6],[40.5,11.3],[41.3,12.4],[42.3,13.9],[43.2,10.4],[44.1,12.1],[45,11.5],[45.9,14.2],[46.8,14.8],[47.7,14.8],[48.6,14.8],[49.4,15.6],[50.4,12.4],[51.3,13.6],[52.1,15.1],[53.1,15.6],[54,15.1],[55.1,9.8],[56.2,6],[57.1,3.1],[58.5,9.5],[59.2,12.4],[59.9,19.7],[60.8,16.5],[61.6,16.8],[62.6,14.8],[63.5,17.7],[64.3,18.6],[65.3,18.3],[66.2,19.7],[67.3,17.7],[68.4,15.9],[69.3,18],[70.3,20.3],[71.4,20],[72.5,18.3],[73.4,17.1],[74.4,20],[75.2,23],[76.1,18],[77.1,17.7],[78.1,16.8],[79.2,16.5],[80.2,10.4],[81.2,11],[82.2,12.7],[83.3,13.9],[84.3,13.6],[85.2,17.4],[86.3,18.3],[87.4,18.3],[88.3,22.7],[89.3,18.6],[90.3,19.7],[91.4,18.6],[92.4,19.4],[93.7,20.6],[94.7,21.2],[95.8,22.7],[96.9,22.4],[97.8,20],[98.8,18.3],[99.8,20.3],[100.9,22.4],[101.9,23],[102.8,25],[103.9,23.8],[105.3,21.8],[106.3,24.1],[107.3,25],[108.2,25.3],[109,27],[110,25],[110.7,21.8],[111.8,25.3],[112.7,27.3],[113.7,26.5],[114.8,27.6],[115.8,26.9],[116.8,27.8],[117.7,28.5],[118.8,25.9],[120.1,25.3],[121.8,21.8],[123.2,24.4],[124.2,25.3],[125.6,26.5],[126.9,27],[128.3,23.5],[129.6,28.8],[131,27.3],[132.1,25.3],[133,26.8],[134,22.4],[135,22.4],[135.9,24.1],[136.7,18.6],[137.8,27.3],[139.1,28.4],[140.5,28.2],[141.5,27.9],[142.1,24.7],[143.2,29.7],[144.5,31.7],[145.9,32.7],[147.2,31.9],[148.6,31.7],[149.7,30.8],[151,33.2],[152.4,32.6],[153.7,31.1],[155.1,30.8],[156.7,29.4],[157.8,29.4],[159.2,32.3],[160.1,31.7],[161.1,33.3],[162.1,31.1],[163.5,31.1],[164.9,24.7],[165.9,29.1],[167.3,30],[168.6,31.1],[170,30.6],[170.9,31.9],[172.3,30.6],[173.3,28.8],[174.6,28.2],[175.7,25.3],[176.4,21.5],[177.3,25.3],[178.4,27.6],[179.5,28.8],[180.4,32],[181.4,31.4],[182.7,32.3],[183.8,34.1],[184.9,33.5],[186.3,36.1],[187.2,32.3],[188.2,32.6],[189.5,32.5],[190.9,30.8],[191.9,34.1],[193.3,35.2],[194.7,34.4],[196,35.8],[197.1,30.6],[198.1,33.5],[199,36.1],[200.1,35.8],[201.2,33.2],[202.1,37.6],[203.1,33.2],[204.1,31.9],[205.2,33.5],[206.2,34.4],[207.1,33.5],[208.2,34.1],[209.3,36.1],[210.6,36.7],[212,36.1],[212.9,34.6],[214.3,34.1],[215.3,33.5],[216.3,34.9],[217.7,34.6],[219.1,34.4],[220.4,35.8],[221.5,37],[222.8,36.4],[224.2,34.4],[225.1,34.1],[226.1,30.6],[227.2,30],[228.3,32],[229.6,33.9],[231.2,32.9],[232.6,32.6],[233.7,31.4],[234.6,30.8],[235.6,31.7],[236.7,33.2],[237.8,28.8],[238.3,31.7],[239.4,33.5],[240.5,32.3],[241.4,32.6],[242.8,31.7],[244.1,32],[245.2,30.8],[246.2,30.6],[247.2,30.3],[248.2,31],[248.9,31.9],[249.8,30.7],[250.6,32.2],[251.6,31.6],[252.5,32.5],[253.6,31.3],[254.7,31.3],[256.1,31.4],[257,31],[258,32.6],[259,31.9],[260.1,30.5],[261.8,30.7],[263.1,30.1],[264.2,29.2],[265.1,30.4],[266.1,31.3],[266.9,24.9],[267.6,22.5],[268.5,20.5],[269.6,23.7],[271,27.6],[271.9,25.4],[272.9,25.8],[273.9,27.3],[275,24.9],[276,24.3],[276.9,21.6],[278,23.7],[279.1,24.9],[280,24],[281,25.5],[282.1,25.8],[283.2,24.3],[284.1,26.4],[285.1,24.9],[286.1,24.3],[287.2,23.7],[288.2,23.1],[289.1,24],[290.2,24],[291.3,25.5],[292.2,25.8],[293.2,23.4],[294.3,20.7],[295.4,22.5],[296.3,24.6],[297.3,23.1],[298.3,24],[299.4,24],[300.4,22.5],[301.3,22.8],[302.1,22.8],[303,21.3]];
const med2018 = [[0,8],[1.2,10.1],[2.3,11],[3.4,11.3],[4.3,9.9],[5.3,12.1],[6.3,13.9],[7.4,15.4],[8.4,13.9],[9.3,11.8],[10.1,11],[11.1,9.6],[12,9.8],[13.1,8.9],[14.2,10.1],[15.2,14.2],[16.1,10.7],[16.9,8.6],[17.9,10.7],[18.8,9.8],[19.9,8.9],[21,8],[21.9,8.6],[22.6,6.9],[23.7,5.7],[24.6,6.6],[25.7,6.6],[26.7,10.7],[27.8,8.9],[28.7,8],[29.7,8.3],[30.7,8.6],[31.8,11.5],[32.8,13.9],[33.7,11.3],[34.8,8],[35.9,8.9],[36.8,12.1],[37.8,13],[38.9,10.4],[39.9,8.9],[40.9,9.2],[41.8,7.7],[42.9,8.6],[43.9,7.7],[45,6.6],[45.9,7.5],[46.8,8.9],[47.7,10.1],[48.6,10.7],[49.4,9.5],[50.4,8.9],[51.3,10.4],[52.1,11.3],[53.1,13.3],[54,10.1],[55.1,7.5],[56.2,2.5],[57.1,0.1],[58.1,4.8],[59.2,11.3],[60.3,12.4],[61.2,13.3],[62.2,11.8],[63.2,13.3],[64.3,12.4],[65.3,12.1],[66.2,11.8],[67.3,11],[68.4,11.5],[69.3,14.8],[70.3,15.1],[71.4,13.6],[72.5,11],[73.4,12.4],[74.4,14.8],[75.2,16.5],[76.1,13.6],[77.1,11.3],[78.1,11.8],[79.2,9.2],[80.2,5.4],[81.2,6.9],[82.2,7.7],[83.5,9.2],[84.9,9.8],[86,10.7],[86.9,11.8],[87.9,13.3],[89,15.4],[90,12.7],[91,11.5],[91.9,12.1],[93,13.6],[94.1,14.5],[95.1,15.1],[96.1,14.8],[97.1,15.6],[98.2,15.1],[99.2,13],[100.1,14.8],[101.2,16.5],[102.3,16.5],[103.2,17.4],[104.2,16.8],[105.3,16.5],[106.2,18],[107.3,18.6],[108.3,20],[109.3,18.6],[110.4,17.1],[111.4,18.6],[112.7,19],[114.1,19.2],[115.4,18.9],[116.8,19.4],[117.7,20.9],[118.8,19.2],[120.1,18.9],[121.5,19.2],[122.8,18.3],[124.2,20],[125.3,20.9],[126.2,17.7],[127.2,20.9],[128.3,17.7],[129.6,20.6],[131,19.7],[132.3,18.9],[133.7,15.6],[135,15.9],[136.1,18.6],[137.1,15.4],[138,20.9],[139.1,21.2],[140.5,21.5],[141.5,21.5],[142.1,19.4],[143.2,22.4],[144.5,24.7],[145.9,25],[147.2,25],[148.3,25],[149.7,23.8],[151,25.3],[152.4,25.3],[153.7,24.7],[155.1,25],[156.4,23.5],[157.8,24.1],[159.2,24.7],[160.5,26],[161.9,25.3],[163.5,25.3],[164.6,21.2],[165.5,23],[166.9,23.5],[167.8,23.5],[168.9,25.6],[170.3,21.8],[171.4,24.4],[172.7,24.1],[173.7,22.1],[175,20.3],[176.1,19.7],[177.3,21.8],[178.4,21.8],[179.8,23.5],[181.1,25],[182.5,26.2],[183.8,27.6],[185.2,27.6],[186.5,27.9],[187.9,26.8],[189.2,25.6],[190.6,24.4],[191.7,26.5],[193,28.2],[194.4,28.2],[195.7,27.3],[197.1,25],[198.1,27],[199.4,28.2],[200.8,27],[202.1,29.7],[203.1,25.3],[204.1,27.3],[205.2,27.3],[206.2,25.3],[207.5,25.3],[208.9,28.8],[210.2,29.7],[211.6,29.4],[212.9,27.9],[214.3,25.9],[215.7,26.5],[217,27],[218.8,27],[220.4,27.9],[221.5,28.8],[222.8,28.2],[224.2,27.3],[225.6,26.5],[226.5,23.5],[227.2,22.1],[228.3,25.9],[229.6,25.3],[231,23.8],[232.3,25.3],[233.7,25.9],[234.6,24.7],[235.6,25.9],[236.7,24.7],[238,23.2],[239.4,26.2],[240.5,25.3],[241.4,25.3],[242.8,25],[244.1,25],[245.5,24.1],[246.8,24.1],[247.5,24],[248.2,24.3],[249.3,24.6],[250.2,24.9],[251.2,24.8],[252.3,24.9],[253.4,25.4],[254.3,24.6],[255.2,24.8],[256.3,24.3],[257.4,24.6],[258.4,24.2],[259.7,24.6],[261.1,23.6],[262.4,24.3],[263.8,23.1],[265.1,23],[266.1,24.3],[266.9,20.7],[267.8,17.1],[268.8,17.1],[269.9,18.9],[271,21.1],[271.9,19.5],[273.3,18.3],[274.6,19.8],[276,19.8],[276.9,19.2],[278,19.8],[279.4,18.9],[280.7,19.5],[282.1,18.9],[283.4,19.5],[284.5,20.1],[285.5,18.9],[286.5,19.8],[287.5,20.1],[288.6,19.6],[289.5,18.9],[290.5,18.9],[291.6,18.9],[292.6,18],[293.6,16.8],[294.5,17.4],[295.6,17.1],[296.9,16.8],[298,16.8],[299,18.9],[299.9,21.1],[301,21.3],[301.9,18.9],[303,14.7]];

// ---------- LAYOUT ----------
const W = 984, H = 1955;
const FONT = "'Liberation Sans', Arial, sans-serif";
const svg = d3.select("#c");
svg.append("rect").attr("width", W).attr("height", H).attr("fill", "#fff");

const panels = [
  {title: panelTitles[0], year: 2016, endDay: 365, x0: 91.5, x1: 991.6, yTop: 10.3, yBot: 639.7,
   ticks: ticks2016, series: [min2016, max2016, med2016], rightBorder: false,
   legend: {x: 116.7, y: 87.3, gap: 38.3}, titleR: 949, titleB: 52, titleSize: 41, ytitle: {x: 23, y: 294}},
  {title: panelTitles[1], year: 2017, endDay: 364, x0: 91.3, x1: 988.9, yTop: 665.7, yBot: 1289.4,
   ticks: ticks2017, series: [min2017, max2017, med2017], rightBorder: false,
   legend: {x: 138, y: 742.3, gap: 37.5}, titleR: 970, titleB: 710, titleSize: 47, ytitle: {x: 25, y: 975}},
  {title: panelTitles[2], year: 2018, endDay: 303, x0: 89.4, x1: 834.8, yTop: 1315.3, yBot: 1942.3,
   ticks: ticks2018, series: [min2018, max2018, med2018], rightBorder: true,
   legend: {x: 134, y: 1389, gap: 35.9}, titleR: 983, titleB: 1356, titleSize: 43, ytitle: {x: 25, y: 1603}}
];

const gridColor = "#b3b3b3";

panels.forEach(p => {
  const x = d3.scaleLinear().domain([0, p.endDay]).range([p.x0, p.x1]);
  const y = d3.scaleLinear().domain([-10, 45]).range([p.yBot, p.yTop]);
  const g = svg.append("g");
  const xr = Math.min(p.x1, W + 2);

  // gridlines
  g.selectAll("line.grid").data(yTickValues).enter().append("line")
    .attr("x1", p.x0 - 7).attr("x2", xr)
    .attr("y1", d => y(d)).attr("y2", d => y(d))
    .attr("stroke", gridColor).attr("stroke-width", 1.3);
  // top border
  g.append("line").attr("x1", p.x0).attr("x2", xr).attr("y1", y(45)).attr("y2", y(45))
    .attr("stroke", gridColor).attr("stroke-width", 1.3);
  // left axis
  g.append("line").attr("x1", p.x0).attr("x2", p.x0).attr("y1", y(45)).attr("y2", y(-10))
    .attr("stroke", gridColor).attr("stroke-width", 1.5);
  if (p.rightBorder) {
    g.append("line").attr("x1", p.x1).attr("x2", p.x1).attr("y1", y(45)).attr("y2", y(-10))
      .attr("stroke", gridColor).attr("stroke-width", 1.5);
  }
  // y tick labels
  g.selectAll("text.yl").data(yTickValues).enter().append("text")
    .attr("x", 68).attr("y", d => y(d) + 9)
    .attr("text-anchor", "end").attr("font-family", FONT).attr("font-weight", "bold")
    .attr("font-size", 23).attr("fill", "#000").text(d => d);

  // x ticks (first day of each month)
  const monthDays = p.ticks.map((t, i) => d3.timeDay.count(new Date(p.year, 0, 1), new Date(p.year, i, 1)));
  g.selectAll("line.xt").data(monthDays).enter().append("line")
    .attr("x1", d => x(d)).attr("x2", d => x(d))
    .attr("y1", y(0)).attr("y2", y(0) + 5)
    .attr("stroke", gridColor).attr("stroke-width", 1.3);
  g.selectAll("text.xl").data(p.ticks).enter().append("text")
    .attr("transform", (t, i) => `translate(${x(monthDays[i]) + 3},${y(0) + 25}) rotate(-45)`)
    .attr("text-anchor", "end").attr("font-family", FONT).attr("font-weight", "bold")
    .attr("font-size", 16).attr("fill", "#000").text(t => t);

  // series lines (Minimum, Maximum, Medium order)
  const line = d3.line().x(d => x(d[0])).y(d => y(d[1]));
  p.series.forEach((s, i) => {
    g.append("path").datum(s).attr("d", line).attr("fill", "none")
      .attr("stroke", seriesColors[i]).attr("stroke-width", 2.8)
      .attr("stroke-linejoin", "round").attr("stroke-linecap", "round");
  });

  // legend
  seriesNames.forEach((n, i) => {
    const ly = p.legend.y + i * p.legend.gap;
    g.append("line").attr("x1", p.legend.x).attr("x2", p.legend.x + 28.5)
      .attr("y1", ly).attr("y2", ly).attr("stroke", seriesColors[i]).attr("stroke-width", 3);
    g.append("text").attr("x", p.legend.x + 31).attr("y", ly + 10)
      .attr("font-family", FONT).attr("font-weight", "bold").attr("font-size", 28)
      .attr("fill", "#000").text(n);
  });

  // y axis title
  g.append("text")
    .attr("transform", `translate(${p.ytitle.x + 8},${p.ytitle.y}) rotate(-90)`)
    .attr("text-anchor", "middle").attr("font-family", FONT).attr("font-weight", "bold")
    .attr("font-size", 24).attr("textLength", 221).attr("lengthAdjust", "spacingAndGlyphs")
    .attr("fill", "#000").text(yAxisTitle);

  // panel title
  g.append("text").attr("x", p.titleR).attr("y", p.titleB)
    .attr("text-anchor", "end").attr("font-family", "Lato, 'Open Sans', sans-serif")
    .attr("font-weight", "bold").attr("font-size", p.titleSize).attr("fill", "#000").text(p.title);
});
</script>
</body></html>
